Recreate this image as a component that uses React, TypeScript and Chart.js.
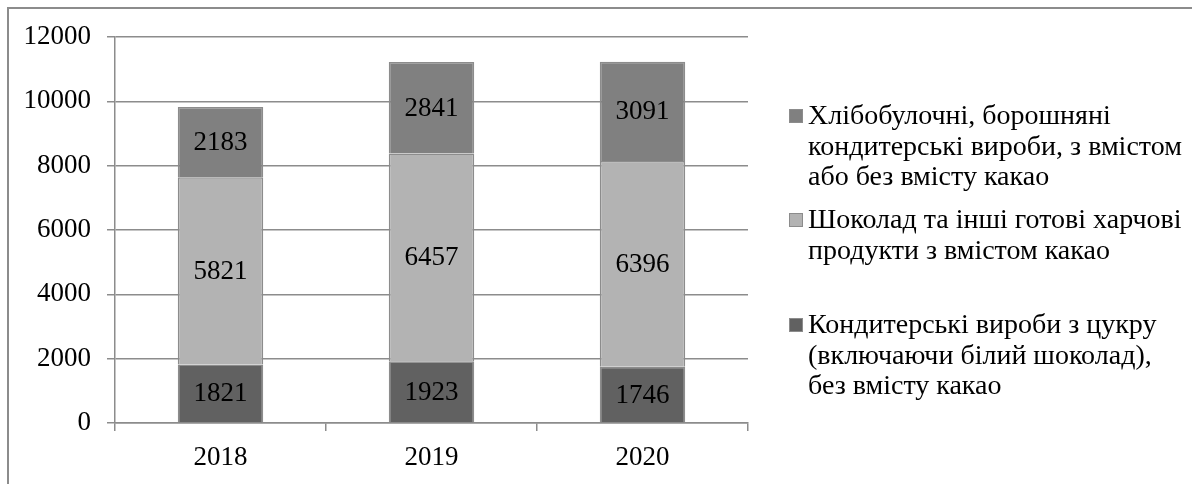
import React, { useEffect, useRef } from "react";
import { Chart, registerables } from "chart.js";

Chart.register(...registerables);

// Production of confectionery, by year
const years = ["2018", "2019", "2020"];
const sugarConfectionery = [1821, 1923, 1746];
const chocolateProducts = [5821, 6457, 6396];
const bakeryConfectionery = [2183, 2841, 3091];

const yMin = 0;
const yMax = 12000;
const yStep = 2000;

const legendBakery = [
  "Хлібобулочні, борошняні",
  "кондитерські вироби, з вмістом",
  "або без вмісту какао",
];
const legendChocolate = ["Шоколад та інші готові харчові", "продукти з вмістом какао"];
const legendSugar = [
  "Кондитерські вироби з цукру",
  "(включаючи білий шоколад),",
  "без вмісту какао",
];

const FONT = "'Liberation Serif', 'Times New Roman', serif";
const NUM_SIZE = 27;
const LEGEND_SIZE = 28;
const LINE_GRAY = "#8c8c8c";
const W = 1192;
const H = 484;

// Legend layout (right side of the frame)
const LEGEND_MARKER_X = 789;
const LEGEND_TEXT_X = 808;
const LEGEND_FIRST_LINE_Y = [116, 220, 325];
const LEGEND_LINE_H = 30.5;

const segmentLabels = {
  id: "segmentLabels",
  afterDatasetsDraw(chart: any) {
    const ctx = chart.ctx;
    ctx.save();
    ctx.font = `${NUM_SIZE}px ${FONT}`;
    ctx.fillStyle = "#000";
    ctx.textAlign = "center";
    ctx.textBaseline = "middle";
    chart.data.datasets.forEach((ds: any, i: number) => {
      const meta = chart.getDatasetMeta(i);
      meta.data.forEach((bar: any, j: number) => {
        const { x, y, base } = bar.getProps(["x", "y", "base"], true);
        ctx.fillText(String(ds.data[j]), x, (y + base) / 2 + 1);
      });
    });
    ctx.restore();
  },
};

const sideLegend = {
  id: "sideLegend",
  afterDraw(chart: any) {
    const ctx = chart.ctx;
    ctx.save();
    // outer frame
    ctx.strokeStyle = LINE_GRAY;
    ctx.lineWidth = 2;
    ctx.beginPath();
    ctx.moveTo(8, H);
    ctx.lineTo(8, 8);
    ctx.lineTo(W, 8);
    ctx.stroke();

    const items = [...chart.data.datasets].reverse();
    ctx.font = `${LEGEND_SIZE}px ${FONT}`;
    ctx.textAlign = "left";
    ctx.textBaseline = "middle";
    items.forEach((ds: any, k: number) => {
      const y0 = LEGEND_FIRST_LINE_Y[k];
      ctx.fillStyle = ds.backgroundColor;
      ctx.fillRect(LEGEND_MARKER_X, y0 - 7, 14, 14);
      ctx.strokeStyle = LINE_GRAY;
      ctx.lineWidth = 1;
      ctx.strokeRect(LEGEND_MARKER_X + 0.5, y0 - 6.5, 13, 13);
      ctx.fillStyle = "#000";
      (ds.legendLines as string[]).forEach((line, n) => {
        ctx.fillText(line, LEGEND_TEXT_X, y0 + n * LEGEND_LINE_H + 1);
      });
    });
    ctx.restore();
  },
};

export default function App() {
  const canvasRef = useRef<HTMLCanvasElement | null>(null);

  useEffect(() => {
    if (!canvasRef.current) return;
    const mk = (label: string, data: number[], color: string, legendLines: string[]) => ({
      label,
      data,
      backgroundColor: color,
      borderColor: LINE_GRAY,
      borderWidth: 1.5,
      barPercentage: 0.405,
      categoryPercentage: 1,
      legendLines,
    });
    const chart = new Chart(canvasRef.current, {
      type: "bar",
      data: {
        labels: years,
        datasets: [
          mk(legendSugar.join(" "), sugarConfectionery, "#616161", legendSugar),
          mk(legendChocolate.join(" "), chocolateProducts, "#b3b3b3", legendChocolate),
          mk(legendBakery.join(" "), bakeryConfectionery, "#808080", legendBakery),
        ] as any,
      },
      options: {
        animation: false,
        responsive: false,
        devicePixelRatio: 1,
        layout: { padding: { left: 0, top: 37, right: W - 748, bottom: 0 } },
        plugins: {
          legend: { display: false },
          tooltip: { enabled: false },
        },
        scales: {
          x: {
            stacked: true,
            afterFit: (s: any) => {
              s.height = H - 423;
            },
            grid: {
              drawOnChartArea: false,
              drawTicks: true,
              tickLength: 8,
              color: LINE_GRAY,
              lineWidth: 1.5,
            },
            border: { display: true, color: LINE_GRAY, width: 1.5 },
            ticks: { color: "#000", font: { family: FONT, size: NUM_SIZE }, padding: 11 },
          },
          y: {
            stacked: true,
            min: yMin,
            max: yMax,
            afterFit: (s: any) => {
              s.width = 115;
            },
            grid: { color: LINE_GRAY, lineWidth: 1.5, tickLength: 8, drawTicks: true },
            border: { display: true, color: LINE_GRAY, width: 1.5 },
            ticks: {
              stepSize: yStep,
              color: "#000",
              font: { family: FONT, size: NUM_SIZE },
              padding: 16,
              callback: (v: any) => String(v),
            },
          },
        },
      },
      plugins: [segmentLabels, sideLegend],
    });
    return () => chart.destroy();
  }, []);

  return (
    <div style={{ position: "absolute", left: 0, top: 0, width: W, height: H, background: "#fff" }}>
      <canvas ref={canvasRef} width={W} height={H} />
    </div>
  );
}
